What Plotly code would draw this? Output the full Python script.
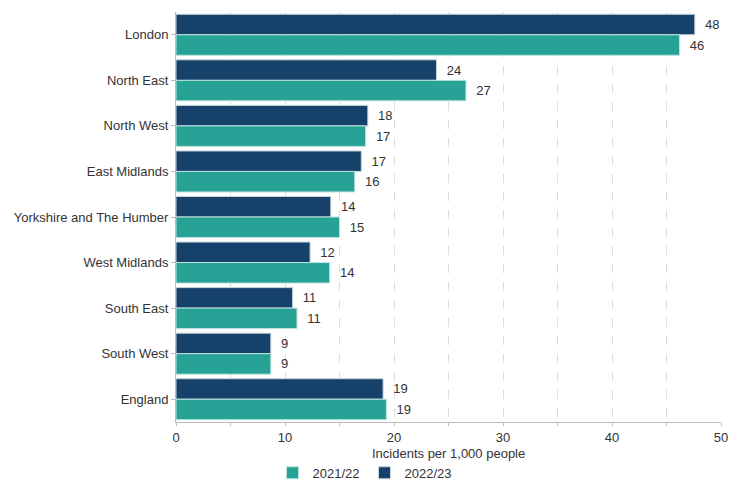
import plotly.graph_objects as go

regions = ["London", "North East", "North West", "East Midlands", "Yorkshire and The Humber",
           "West Midlands", "South East", "South West", "England"]
values_2021_22 = [46.2, 26.6, 17.4, 16.4, 15.0, 14.1, 11.1, 8.7, 19.3]
values_2022_23 = [47.6, 23.9, 17.6, 17.0, 14.2, 12.3, 10.7, 8.7, 19.0]
labels_2021_22 = ["46", "27", "17", "16", "15", "14", "11", "9", "19"]
labels_2022_23 = ["48", "24", "18", "17", "14", "12", "11", "9", "19"]

NAVY = "#16416B"
TEAL = "#27A296"

fig = go.Figure()
fig.add_trace(go.Bar(
    y=regions, x=values_2022_23, name="2022/23", orientation="h",
    marker=dict(color=NAVY, line=dict(color="#c8d4dc", width=1)),
    text=labels_2022_23, texttemplate="  %{text}", textposition="outside", cliponaxis=False,
    textfont=dict(color="#333333", size=13),
))
fig.add_trace(go.Bar(
    y=regions, x=values_2021_22, name="2021/22", orientation="h",
    marker=dict(color=TEAL, line=dict(color="#bfe3df", width=1)),
    text=labels_2021_22, texttemplate="  %{text}", textposition="outside", cliponaxis=False,
    textfont=dict(color="#333333", size=13),
))

fig.update_layout(
    width=729, height=481,
    margin=dict(l=176, r=8, t=12, b=59, autoexpand=False),
    barmode="group", bargap=0.1, bargroupgap=0,
    plot_bgcolor="white", paper_bgcolor="white",
    font=dict(family="Liberation Sans, Arial, sans-serif", size=13, color="#333333"),
    legend=dict(orientation="h", x=0.5, xanchor="center", xref="container",
                y=-0.124, yanchor="middle", yref="paper",
                traceorder="reversed", font=dict(size=13)),
    uniformtext=dict(minsize=13, mode="show"),
    annotations=[dict(text="Incidents per 1,000 people", xref="paper", yref="paper",
                      x=0.5, y=-0.077, xanchor="center", yanchor="middle",
                      showarrow=False, font=dict(size=13, color="#333333"))],
)
fig.update_xaxes(
    range=[0, 50], dtick=10, showgrid=True, gridcolor="#dcdcdc", griddash="dash", gridwidth=1,
    minor=dict(dtick=5, showgrid=True, gridcolor="#dcdcdc", griddash="dash", ticks="outside", ticklen=3, tickcolor="#bbbbbb"),
    showline=True, linecolor="#bbbbbb", ticks="outside", ticklen=3, tickcolor="#bbbbbb",
    zeroline=False, tickfont=dict(size=13), automargin=False, ticklabeloverflow="allow",
)
fig.update_yaxes(
    autorange="reversed", showline=True, linecolor="#bbbbbb", ticks="outside", ticklen=4,
    tickcolor="#bbbbbb", tickfont=dict(size=13), automargin=False,
)

fig.write_html("out.html", config={"displayModeBar": False},
               post_script="document.body.style.margin='0';document.body.style.overflow='hidden';")
